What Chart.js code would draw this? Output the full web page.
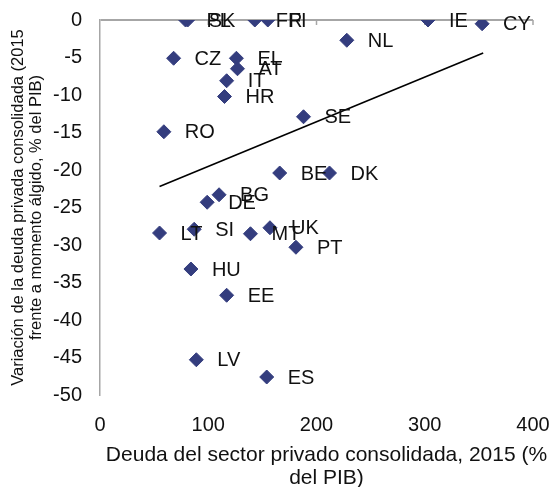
<!DOCTYPE html>
<html>
<head>
<meta charset="utf-8">
<script src="https://cdn.jsdelivr.net/npm/chart.js@4/dist/chart.umd.min.js"></script>
<style>
  body { margin: 0; background: #fff; }
  #wrap { width: 552px; height: 487px; }
</style>
</head>
<body>
<div id="wrap"><canvas id="chart" width="552" height="487"></canvas></div>
<script>
// Länder und Werte
const countries = ['PL','SK','FR','FI','IE','CY','NL','CZ','EL','AT','IT','HR','SE','RO','BE','DK','BG','DE','LT','SI','MT','UK','PT','HU','EE','LV','ES'];
const debt2015 = [79, 81, 143, 155, 303, 353, 228, 68, 126, 127, 117, 115, 188, 59, 166, 212, 110, 99, 55, 87, 139, 157, 181, 84, 117, 89, 154];
const debtChange = [0, 0, 0, 0, 0, -0.5, -2.7, -5.1, -5.1, -6.5, -8.1, -10.2, -12.9, -14.9, -20.4, -20.4, -23.3, -24.3, -28.4, -27.9, -28.5, -27.7, -30.3, -33.2, -36.7, -45.3, -47.6];

const trendX = [55, 354];
const trendY = [-22.2, -4.4];

const xTicks = [0, 100, 200, 300, 400];
const yTicks = [0, -5, -10, -15, -20, -25, -30, -35, -40, -45, -50];
const xTitle = ['Deuda del sector privado consolidada, 2015 (%', 'del PIB)'];

const markerColor = '#343d7e';
const axisGrey = '#a6a6a6';
const fontName = '"Liberation Sans", Arial, sans-serif';

// Beschriftung neben den Punkten
const pointLabels = {
  id: 'pointLabels',
  afterDatasetsDraw(chart) {
    const ctx = chart.ctx;
    const meta = chart.getDatasetMeta(0);
    ctx.save();
    ctx.font = '20px ' + fontName;
    ctx.fillStyle = '#111';
    ctx.textBaseline = 'middle';
    meta.data.forEach((pt, i) => {
      ctx.fillText(countries[i], pt.x + 21, pt.y + 1);
    });
    ctx.restore();
  }
};

// kleine Striche an der Nulllinie oben
const topTicks = {
  id: 'topTicks',
  beforeDatasetsDraw(chart) {
    const ctx = chart.ctx;
    const xs = chart.scales.x;
    const y0 = chart.scales.y.getPixelForValue(0);
    ctx.save();
    ctx.strokeStyle = axisGrey;
    ctx.lineWidth = 1.5;
    xTicks.slice(1).forEach(v => {
      const px = xs.getPixelForValue(v);
      ctx.beginPath();
      ctx.moveTo(px, y0);
      ctx.lineTo(px, y0 + 5);
      ctx.stroke();
    });
    ctx.restore();
  }
};

// x-Achsentitel, etwas nach rechts versetzt wie im Original
const xAxisTitle = {
  id: 'xAxisTitle',
  afterDraw(chart) {
    const ctx = chart.ctx;
    const area = chart.chartArea;
    const cx = (area.left + area.right) / 2 + 10;
    ctx.save();
    ctx.font = '21px ' + fontName;
    ctx.fillStyle = '#111';
    ctx.textAlign = 'center';
    ctx.textBaseline = 'middle';
    xTitle.forEach((line, i) => {
      ctx.fillText(line, cx, 455 + i * 23);
    });
    ctx.restore();
  }
};

const ctx = document.getElementById('chart').getContext('2d');

let scatterChart = new Chart(ctx, {
  type: 'scatter',
  data: {
    datasets: [{
      data: debt2015.map((v, i) => ({x: v, y: debtChange[i]})),
      pointStyle: 'rectRot',
      pointRadius: 7,
      pointHoverRadius: 7,
      backgroundColor: markerColor,
      borderColor: markerColor,
      borderWidth: 1,
      order: 1
    }, {
      type: 'line',
      data: trendX.map((v, i) => ({x: v, y: trendY[i]})),
      borderColor: '#000',
      borderWidth: 1.6,
      pointRadius: 0,
      fill: false,
      order: 2
    }]
  },
  options: {
    responsive: false,
    animation: false,
    layout: { padding: { top: 20, right: 19, left: 0, bottom: 0 } },
    plugins: {
      legend: { display: false },
      tooltip: { enabled: false }
    },
    scales: {
      x: {
        type: 'linear',
        min: 0,
        max: 400,
        afterBuildTicks: s => { s.ticks = xTicks.map(v => ({value: v})); },
        afterFit: s => {
          s.height = 92;
          s.paddingLeft = 0;
          s.paddingRight = 0;
        },
        grid: { display: false, drawTicks: false },
        border: { display: false },
        ticks: {
          padding: 18,
          color: '#111',
          font: { family: fontName, size: 20 }
        },
        title: { display: false }
      },
      y: {
        type: 'linear',
        min: -50,
        max: 0,
        afterBuildTicks: s => { s.ticks = yTicks.map(v => ({value: v})); },
        afterFit: s => {
          s.width = 100;
          s.paddingTop = 0;
          s.paddingBottom = 0;
        },
        grid: {
          drawTicks: false,
          color: c => (c.tick && c.tick.value === 0) ? axisGrey : 'rgba(0,0,0,0)',
          lineWidth: 2
        },
        border: { display: true, color: axisGrey, width: 1.5 },
        ticks: {
          padding: 18,
          color: '#111',
          font: { family: fontName, size: 20 }
        },
        title: {
          display: true,
          text: ['Variación de la deuda privada consolidada (2015', 'frente a momento álgido, % del PIB)'],
          color: '#111',
          font: { family: fontName, size: 16.5, lineHeight: 1.08 },
          padding: { top: 10, bottom: 0 }
        }
      }
    }
  },
  plugins: [topTicks, pointLabels, xAxisTitle]
});
</script>
</body>
</html>
